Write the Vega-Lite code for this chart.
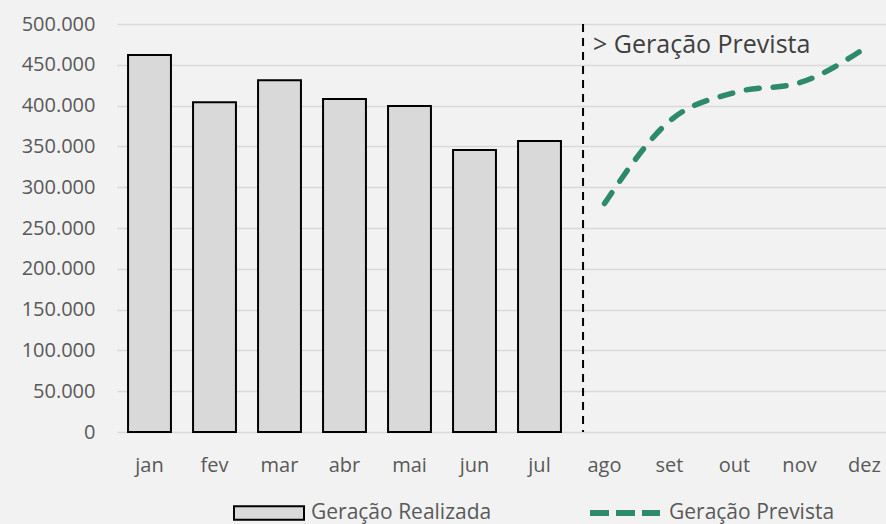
{
  "$schema": "https://vega.github.io/schema/vega-lite/v6.json",
  "autosize": "none",
  "width": 769,
  "height": 408,
  "padding": {"left": 117, "top": 24, "right": 0, "bottom": 92},
  "background": "#f2f2f2",
  "config": {
    "view": {"stroke": null},
    "font": "Open Sans",
    "axis": {"labelFont": "Open Sans", "labelColor": "#595959", "labelFontSize": 20},
    "legend": {"labelFont": "Open Sans", "labelFontSize": 21, "labelColor": "#595959", "labelLimit": 400, "padding": 0, "labelOffset": 6}
  },
  "data": {
    "values": [
      {"mes": "jan", "valor": 462000, "serie": "Geração Realizada"},
      {"mes": "fev", "valor": 404000, "serie": "Geração Realizada"},
      {"mes": "mar", "valor": 431000, "serie": "Geração Realizada"},
      {"mes": "abr", "valor": 408000, "serie": "Geração Realizada"},
      {"mes": "mai", "valor": 399500, "serie": "Geração Realizada"},
      {"mes": "jun", "valor": 345500, "serie": "Geração Realizada"},
      {"mes": "jul", "valor": 356500, "serie": "Geração Realizada"},
      {"mes": "ago", "valor": 280000, "serie": "Geração Prevista"},
      {"mes": "set", "valor": 381000, "serie": "Geração Prevista"},
      {"mes": "out", "valor": 416000, "serie": "Geração Prevista"},
      {"mes": "nov", "valor": 428000, "serie": "Geração Prevista"},
      {"mes": "dez", "valor": 470000, "serie": "Geração Prevista"}
    ]
  },
  "encoding": {
    "x": {
      "field": "mes",
      "type": "nominal",
      "sort": ["jan", "fev", "mar", "abr", "mai", "jun", "jul", "ago", "set", "out", "nov", "dez"],
      "scale": {
        "domain": ["jan", "fev", "mar", "abr", "mai", "jun", "jul", "ago", "set", "out", "nov", "dez"],
        "range": [0, 780],
        "paddingInner": 0.34,
        "paddingOuter": 0.17
      },
      "axis": {"title": null, "labelAngle": 0, "domain": false, "ticks": false, "labelPadding": 23, "grid": false}
    }
  },
  "layer": [
    {
      "transform": [{"filter": "datum.serie === 'Geração Realizada'"}],
      "mark": {"type": "bar", "stroke": "#000000", "strokeWidth": 2, "opacity": 1},
      "encoding": {
        "y": {
          "field": "valor",
          "type": "quantitative",
          "scale": {"domain": [0, 500000], "nice": false},
          "axis": {
            "title": null,
            "values": [0, 50000, 100000, 150000, 200000, 250000, 300000, 350000, 400000, 450000, 500000],
            "labelExpr": "replace(format(datum.value, ','), ',', '.')",
            "grid": true,
            "gridColor": "#d9d9d9",
            "gridWidth": 1.5,
            "domain": false,
            "ticks": false,
            "labelPadding": 22
          }
        },
        "fill": {
          "field": "serie",
          "type": "nominal",
          "scale": {"domain": ["Geração Realizada"], "range": ["#d9d9d9"]},
          "legend": {
            "title": null,
            "orient": "none",
            "direction": "horizontal",
            "legendX": 116,
            "legendY": 453,
            "symbolSize": 4900,
            "symbolType": "M-1,-0.19H1V0.19H-1Z",
            "symbolStrokeColor": "#000000",
            "symbolStrokeWidth": 2,
            "symbolOpacity": 1
          }
        }
      }
    },
    {
      "transform": [{"filter": "datum.serie === 'Geração Prevista'"}],
      "mark": {"type": "line", "strokeWidth": 5.5, "strokeDash": [13, 14], "strokeCap": "round", "interpolate": "monotone"},
      "encoding": {
        "y": {"field": "valor", "type": "quantitative"},
        "stroke": {
          "field": "serie",
          "type": "nominal",
          "scale": {"domain": ["Geração Prevista"], "range": ["#2e8b6a"]},
          "legend": {
            "title": null,
            "orient": "none",
            "direction": "horizontal",
            "legendX": 470,
            "legendY": 451,
            "symbolSize": 4900,
            "symbolType": "stroke",
            "symbolStrokeWidth": 6,
            "symbolDash": [19, 7],
            "symbolOpacity": 1
          }
        }
      }
    },
    {
      "data": {"values": [{"mes": "ago"}]},
      "mark": {"type": "rule", "color": "#000000", "strokeWidth": 2, "strokeDash": [8, 6]},
      "encoding": {
        "x": {"field": "mes", "type": "nominal", "bandPosition": 0}
      }
    },
    {
      "data": {"values": [{"mes": "ago", "valor": 464500, "rotulo": "> Geração Prevista"}]},
      "mark": {"type": "text", "align": "left", "baseline": "alphabetic", "dx": 10, "fontSize": 25, "font": "Open Sans", "color": "#404040"},
      "encoding": {
        "x": {"field": "mes", "type": "nominal", "bandPosition": 0},
        "y": {"field": "valor", "type": "quantitative"},
        "text": {"field": "rotulo"}
      }
    }
  ]
}
